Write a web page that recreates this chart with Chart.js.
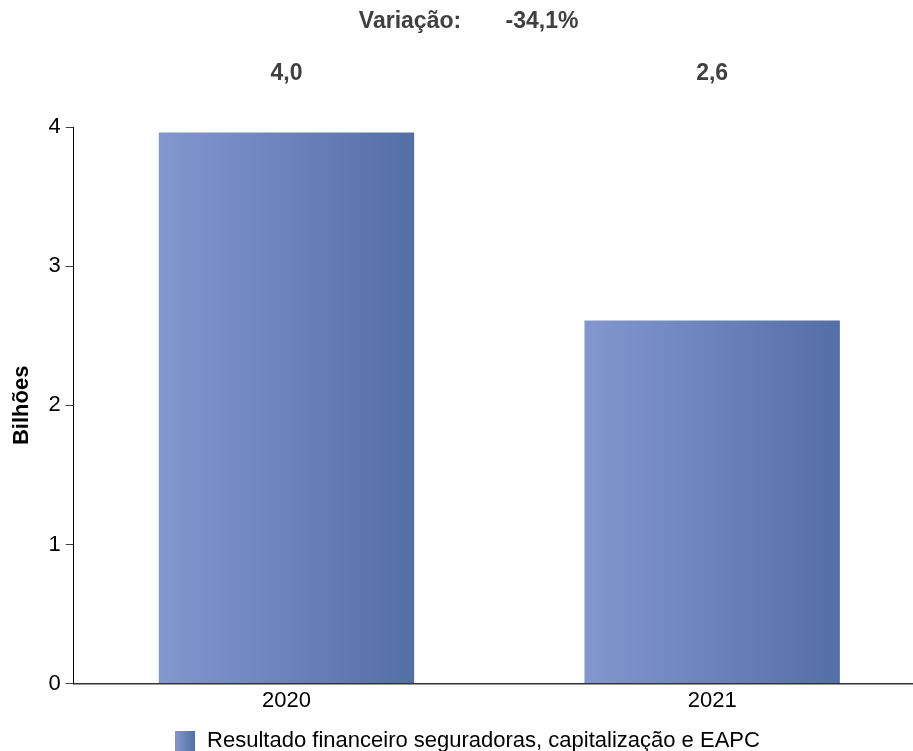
<!DOCTYPE html>
<html>
<head>
<meta charset="utf-8">
<script src="https://cdn.jsdelivr.net/npm/chart.js@4.4.0/dist/chart.umd.min.js"></script>
<style>
  html, body { margin: 0; padding: 0; background: #fff; overflow: hidden; }
  #wrap { width: 926px; height: 751px; position: relative; }
</style>
</head>
<body>
<div id="wrap"><canvas id="grafico"></canvas></div>
<script>
// dados do grafico
var anos = ['2020', '2021'];
var valores = [3.96, 2.61];
var rotulosValores = ['4,0', '2,6'];
var variacaoTexto = ['Variação:', '-34,1%'];
var serieNome = 'Resultado financeiro seguradoras, capitalização e EAPC';
var eixoY = 'Bilhões';

var fonte = '"Liberation Sans", Arial, sans-serif';
var corClara = '#8497cf';
var corEscura = '#536fa6';

// gradiente horizontal de cada barra
function gradienteBarra(ctx) {
    var chart = ctx.chart;
    var x = chart.scales.x;
    if (!x || ctx.dataIndex === undefined) return corClara;
    var centro = x.getPixelForValue(ctx.dataIndex);
    var meia = (x.width / anos.length) * 0.6 / 2;
    if (!isFinite(centro) || !isFinite(meia) || meia <= 0) return corClara;
    var g = chart.ctx.createLinearGradient(centro - meia, 0, centro + meia, 0);
    g.addColorStop(0, corClara);
    g.addColorStop(1, corEscura);
    return g;
}

// quadradinho da legenda com gradiente
var caixa = document.createElement('canvas');
caixa.width = 20; caixa.height = 20;
var cctx = caixa.getContext('2d');
var gl = cctx.createLinearGradient(0, 0, 20, 0);
gl.addColorStop(0, corClara);
gl.addColorStop(1, corEscura);
cctx.fillStyle = gl;
cctx.fillRect(0, 0, 20, 20);

var textosTopo = {
    id: 'textosTopo',
    afterDraw: function (chart) {
        var c = chart.ctx;
        var x = chart.scales.x;
        c.save();
        c.fillStyle = '#404040';
        c.font = 'bold 23px ' + fonte;
        c.textAlign = 'center';
        c.textBaseline = 'middle';
        c.fillText(variacaoTexto[0], 410, 22);
        c.fillText(variacaoTexto[1], 542, 22);
        rotulosValores.forEach(function (r, i) {
            c.fillText(r, x.getPixelForValue(i), 74);
        });
        c.restore();
    }
};

var grafico = new Chart(document.getElementById('grafico'), {
    type: 'bar',
    data: {
        labels: anos,
        datasets: [{
            label: serieNome,
            data: valores,
            backgroundColor: gradienteBarra,
            barPercentage: 0.6,
            categoryPercentage: 1.0,
            pointStyle: caixa
        }]
    },
    plugins: [textosTopo],
    options: {
        responsive: true,
        maintainAspectRatio: false,
        animation: false,
        layout: { padding: { top: 127, right: 1, left: 9, bottom: -11 } },
        plugins: {
            tooltip: { enabled: false },
            legend: {
                position: 'bottom',
                labels: {
                    usePointStyle: true,
                    color: '#000',
                    padding: 12,
                    font: { family: fonte, size: 22 }
                }
            }
        },
        scales: {
            x: {
                grid: { display: false, drawTicks: false },
                border: { color: '#333', width: 1.5 },
                ticks: {
                    color: '#000',
                    padding: 4,
                    font: { family: fonte, size: 22 }
                }
            },
            y: {
                min: 0,
                max: 4,
                ticks: {
                    stepSize: 1,
                    color: '#000',
                    padding: 5,
                    font: { family: fonte, size: 22 }
                },
                grid: { display: true, drawOnChartArea: false, tickLength: 8, color: '#404040' },
                border: { color: '#000', width: 1 },
                title: {
                    display: true,
                    text: eixoY,
                    color: '#000',
                    padding: { top: 0, bottom: 8 },
                    font: { family: fonte, size: 22, weight: 'bold' }
                }
            }
        }
    }
});
</script>
</body>
</html>
